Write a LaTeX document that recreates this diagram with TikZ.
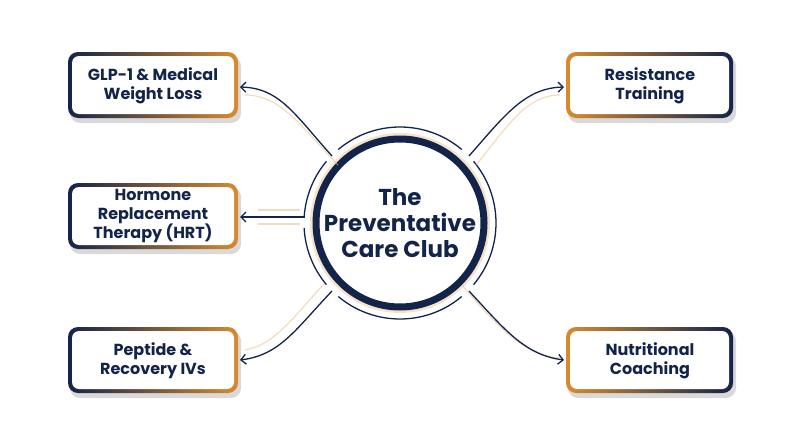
\documentclass[tikz,border=0pt]{standalone}
\usepackage{fontspec}
\setmainfont{Poppins}
\usetikzlibrary{arrows.meta}
\definecolor{navy}{HTML}{13244A}
\definecolor{org}{HTML}{D98A2E}
\begin{document}
\begin{tikzpicture}[x=1pt,y=-1pt,
  lbl/.style={font=\fontsize{16}{19}\selectfont\bfseries, text=navy, align=center},
  conn/.style={navy, line width=1.3pt, -{Straight Barb[length=5pt,width=10pt]}},
  glow/.style={org!60, line width=1.2pt, opacity=0.5}]
\useasboundingbox (0,0) rectangle (800,447);
\fill[white] (0,0) rectangle (800,447);
\newcommand{\mybox}[6]{% x1 y1 x2 y2 leftcolor rightcolor
  \fill[black!15, rounded corners=10pt] (#1+2,#2+4) rectangle (#3+3,#4+5);
  \shade[left color=#5, right color=#6, rounded corners=10pt] (#1,#2) rectangle (#3,#4);
  \fill[white, rounded corners=7pt] (#1+4,#2+4) rectangle (#3-4,#4-4);}
\mybox{68}{52}{238}{118}{navy}{org}
\mybox{68}{183}{238}{249}{navy}{org}
\mybox{68}{327}{238}{393}{navy}{org}
\mybox{566}{52}{733}{118}{org}{navy}
\mybox{566}{327}{733}{393}{org}{navy}
\node[lbl] (a) at (153,86) {GLP-1 \& Medical\\Weight Loss};
\node[lbl] (b) at (153,216) {Hormone\\Replacement\\Therapy (HRT)};
\node[lbl] (c) at (153,361) {Peptide \&\\Recovery IVs};
\node[lbl] (d) at (650,86) {Resistance\\Training};
\node[lbl] (e) at (650,361) {Nutritional\\Coaching};
% center
\coordinate (ctr) at (400,223);
\draw[org!25, line width=8pt] (ctr) circle (86);
\draw[navy, line width=7pt] (ctr) circle (84);
\node[font=\fontsize{23}{26}\selectfont\bfseries, text=navy, align=center] (m) at (ctr) {The\\Preventative\\Care Club};
% outer ring arcs with gaps
\draw[navy, line width=1.3pt] (ctr) ++(50:96) arc (50:130:96);
\draw[navy, line width=1.3pt] (ctr) ++(140:96) arc (140:177:96);
\draw[navy, line width=1.3pt] (ctr) ++(184:96) arc (184:220:96);
\draw[navy, line width=1.3pt] (ctr) ++(230:96) arc (230:310:96);
\draw[navy, line width=1.3pt] (ctr) ++(320:96) arc (320:400:96);
% connectors
\coordinate (s1) at (332,156); \coordinate (s2) at (305,217);
\coordinate (s3) at (332,291); \coordinate (s4) at (469,156);
\coordinate (s5) at (469,291);
\draw[glow] (338,165) .. controls (300,125) and (280,95) .. (245,95);
\draw[glow] (300,210) -- (258,210); \draw[glow] (300,224) -- (258,224);
\draw[glow] (324,284) .. controls (295,315) and (275,345) .. (245,350);
\draw[glow] (476,165) .. controls (505,130) and (525,95) .. (560,95);
\draw[glow] (462,285) .. controls (500,330) and (525,355) .. (560,358);
\draw[conn] (s1) .. controls (295,115) and (280,88) .. (240,87);
\draw[conn] (s2) -- (240,217);
\draw[conn] (s3) .. controls (295,330) and (280,355) .. (240,360);
\draw[conn] (s4) .. controls (505,115) and (525,88) .. (564,87);
\draw[conn] (s5) .. controls (505,330) and (525,355) .. (564,360);
\end{tikzpicture}
\end{document}
